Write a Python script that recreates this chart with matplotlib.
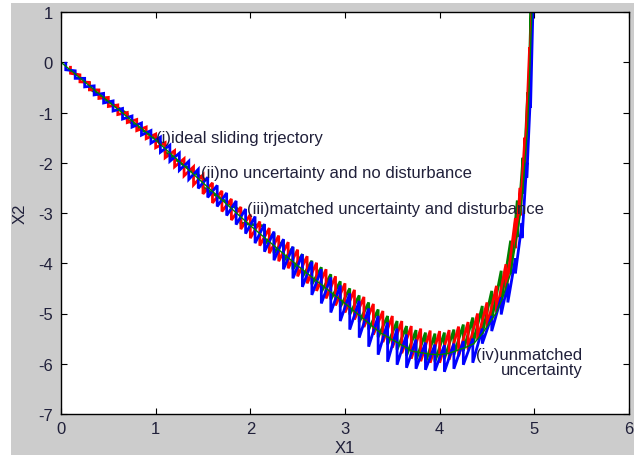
"""Sliding-mode phase portrait: X2 vs X1 for four cases."""

import matplotlib

matplotlib.use("Agg")
import matplotlib.pyplot as plt
import numpy as np
from matplotlib.patches import Rectangle

plt.rcParams["font.family"] = ["Liberation Sans", "DejaVu Sans"]
plt.rcParams["axes.unicode_minus"] = False

# (i) ideal sliding trajectory
ideal_x = [0.0, 0.5, 1.0, 1.5, 2.0, 2.5, 3.0, 3.37, 3.71, 3.9, 4.0, 4.1, 4.28,
           4.36, 4.45, 4.6, 4.67, 4.75, 4.81, 4.86, 4.9, 4.93, 4.975]
ideal_y = [0.0, -0.78, -1.55, -2.4, -3.25, -4.05, -4.8, -5.38, -5.75, -5.81, -5.82,
           -5.79, -5.67, -5.6, -5.4, -4.98, -4.66, -4.2, -3.53, -2.94, -2.0, -1.28, 1.05]

# chattering trajectories: tooth position, tooth top, tooth bottom
# (ii) no uncertainty and no disturbance
green_x = [0.3, 0.7, 1.1, 1.5, 1.9, 2.15, 2.25, 2.35, 2.45, 2.55, 2.65, 2.75, 2.85,
           2.95, 3.05, 3.15, 3.25, 3.35, 3.45, 3.55, 3.65, 3.75, 3.85, 3.95, 4.05,
           4.15, 4.25, 4.35, 4.45, 4.55, 4.65, 4.75, 4.82, 4.88, 4.93, 4.965]
green_hi = [-0.42, -1.03, -1.65, -2.31, -2.96, -3.26, -3.40, -3.54, -3.68, -3.82,
            -3.95, -4.08, -4.22, -4.36, -4.50, -4.64, -4.78, -4.92, -5.05, -5.15,
            -5.25, -5.33, -5.38, -5.40, -5.38, -5.32, -5.22, -5.08, -4.85, -4.55,
            -4.15, -3.55, -2.75, -1.90, -0.60, 1.05]
green_lo = [-0.52, -1.15, -1.79, -2.49, -3.20, -3.62, -3.80, -3.96, -4.12, -4.27,
            -4.42, -4.57, -4.72, -4.87, -5.02, -5.17, -5.32, -5.47, -5.62, -5.72,
            -5.84, -5.93, -5.98, -5.96, -5.90, -5.82, -5.74, -5.62, -5.40, -5.12,
            -4.78, -4.22, -3.48, -2.62, -1.30, 0.60]

# (iii) matched uncertainty and disturbance
red_x = [0.1, 0.2, 0.3, 0.4, 0.5, 0.6, 0.7, 0.8, 0.9, 1.0, 1.1, 1.2, 1.3, 1.4,
         1.5, 1.6, 1.7, 1.8, 1.9, 2.0, 2.1, 2.2, 2.3, 2.4, 2.5, 2.6, 2.7, 2.8,
         2.9, 3.0, 3.1, 3.2, 3.3, 3.4, 3.5, 3.6, 3.7, 3.8, 3.9, 4.0, 4.1, 4.2,
         4.3, 4.4, 4.5, 4.6, 4.7, 4.8, 4.85, 4.9, 4.95, 4.975]
red_hi = [-0.10, -0.25, -0.40, -0.55, -0.70, -0.85, -1.00, -1.14, -1.29, -1.43,
          -1.60, -1.76, -1.92, -2.08, -2.24, -2.40, -2.56, -2.72, -2.88, -3.03,
          -3.17, -3.30, -3.45, -3.58, -3.73, -3.86, -3.99, -4.12, -4.26, -4.40,
          -4.53, -4.67, -4.81, -4.95, -5.05, -5.15, -5.25, -5.30, -5.34, -5.35,
          -5.33, -5.26, -5.17, -5.00, -4.78, -4.45, -4.02, -3.10, -2.50, -1.50,
          0.30, 1.05]
red_lo = [-0.22, -0.39, -0.55, -0.72, -0.88, -1.04, -1.20, -1.36, -1.52, -1.70,
          -1.90, -2.08, -2.26, -2.44, -2.62, -2.80, -2.97, -3.14, -3.32, -3.50,
          -3.65, -3.80, -3.96, -4.10, -4.26, -4.40, -4.55, -4.70, -4.84, -4.98,
          -5.12, -5.27, -5.42, -5.57, -5.68, -5.79, -5.90, -5.95, -5.98, -5.98,
          -5.92, -5.85, -5.72, -5.52, -5.28, -4.98, -4.58, -3.70, -3.05, -2.05,
          -0.20, 1.05]

# (iv) unmatched uncertainty
blue_x = [0.05, 0.15, 0.25, 0.35, 0.45, 0.55, 0.65, 0.75, 0.85, 0.95, 1.05, 1.15,
          1.25, 1.35, 1.45, 1.55, 1.65, 1.75, 1.85, 1.95, 2.05, 2.15, 2.25, 2.35,
          2.45, 2.55, 2.65, 2.75, 2.85, 2.95, 3.05, 3.15, 3.25, 3.35, 3.45, 3.55,
          3.65, 3.75, 3.85, 3.95, 4.05, 4.15, 4.25, 4.35, 4.45, 4.55, 4.65, 4.72,
          4.8, 4.87, 4.92, 4.96, 4.985]
blue_hi = [-0.02, -0.17, -0.32, -0.47, -0.62, -0.77, -0.92, -1.07, -1.21, -1.36,
           -1.49, -1.65, -1.81, -1.97, -2.13, -2.29, -2.45, -2.60, -2.76, -2.92,
           -3.07, -3.22, -3.37, -3.52, -3.67, -3.82, -3.97, -4.12, -4.28, -4.44,
           -4.60, -4.75, -4.90, -5.05, -5.18, -5.30, -5.42, -5.52, -5.58, -5.62,
           -5.63, -5.60, -5.55, -5.50, -5.30, -5.05, -4.68, -4.40, -3.90, -3.20,
           -2.00, -0.60, 1.05]
blue_lo = [-0.15, -0.32, -0.49, -0.65, -0.81, -0.97, -1.13, -1.29, -1.45, -1.61,
           -1.79, -1.97, -2.15, -2.33, -2.51, -2.69, -2.87, -3.05, -3.23, -3.41,
           -3.60, -3.77, -3.94, -4.12, -4.30, -4.47, -4.63, -4.80, -4.98, -5.15,
           -5.32, -5.48, -5.66, -5.82, -5.96, -6.02, -6.08, -6.10, -6.12, -6.14,
           -6.16, -6.10, -6.02, -5.98, -5.60, -5.35, -5.02, -4.78, -4.20, -3.50,
           -2.30, -0.90, 1.05]

labels = [
    ("(i)ideal sliding trjectory", 1.0, -1.49, "left"),
    ("(ii)no uncertainty and no disturbance", 1.48, -2.2, "left"),
    ("(iii)matched uncertainty and disturbance", 1.97, -2.91, "left"),
    ("(iv)unmatched\nuncertainty", 5.51, -5.97, "right"),
]


def sawtooth(xs, hi, lo):
    # each tooth is a vertical stroke top->bottom, joined to the next top
    return np.repeat(xs, 2), np.column_stack([hi, lo]).ravel()


fig = plt.figure(figsize=(6.39, 4.56), dpi=100, facecolor="white")
fig.patches.append(Rectangle((11 / 639, 0), 623 / 639, 1 - 4 / 456,
                             transform=fig.transFigure, facecolor="#cccccc",
                             edgecolor="none", zorder=-10))
ax = fig.add_axes([61 / 639, 1 - 415 / 456, 568 / 639, 402 / 456])

for xs, hi, lo, color in [(green_x, green_hi, green_lo, "#008000"),
                          (red_x, red_hi, red_lo, "#ff0000"),
                          (blue_x, blue_hi, blue_lo, "#0000ff")]:
    px, py = sawtooth(xs, hi, lo)
    ax.plot(px, py, color=color, lw=2.0, solid_joinstyle="miter")
ax.plot(ideal_x, ideal_y, color="#008000", lw=1.0)

text_color = "#20203a"
for txt, x, y, ha in labels:
    ax.text(x, y, txt, ha=ha, va="center", fontsize=12, color=text_color,
            linespacing=1.0)

ax.set_xlim(0, 6)
ax.set_ylim(-7, 1)
ax.set_xticks(range(0, 7))
ax.set_yticks(range(-7, 2))
ax.tick_params(direction="in", top=True, right=True, length=4, width=0.8,
               labelsize=12, labelcolor=text_color)
ax.tick_params(axis="x", pad=5)
ax.tick_params(axis="y", pad=6)
for s in ax.spines.values():
    s.set_linewidth(1.0)
ax.set_xlabel("X1", fontsize=12, color=text_color, labelpad=3)
ax.set_ylabel("X2", fontsize=12, color=text_color, labelpad=7)

fig.savefig("out.png", dpi=100, facecolor=fig.get_facecolor())
